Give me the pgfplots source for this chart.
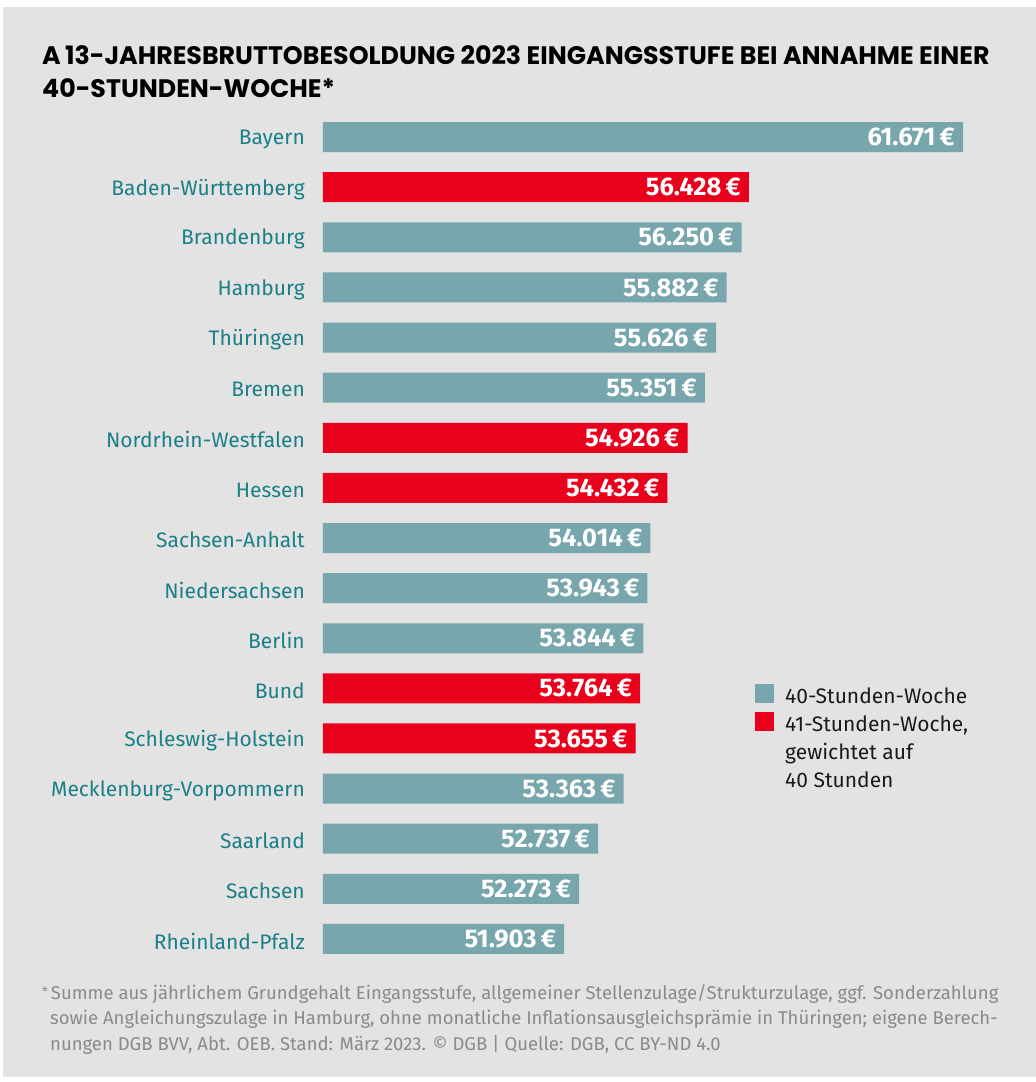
\documentclass[border=0pt]{standalone}
\usepackage{fontspec}
\usepackage{pgfplots}
\usepackage{pgfplotstable}
\pgfplotsset{compat=1.18}
\setmainfont{Fira Sans}
\newfontfamily\titlefont{Poppins}
\definecolor{bg}{HTML}{E2E3E2}
\definecolor{barteal}{HTML}{77A6AD}
\definecolor{barred}{HTML}{E8001C}
\definecolor{labteal}{HTML}{1B7F88}
\definecolor{notegray}{HTML}{8A8A8A}
\definecolor{legtext}{HTML}{1A1A1A}

\pgfplotstableread{
y val
0 61671
2 56250
3 55882
4 55626
5 55351
8 54014
9 53943
10 53844
13 53363
14 52737
15 52273
16 51903
}\tealdata
\pgfplotstableread{
y val
1 56428
6 54926
7 54432
11 53764
12 53655
}\reddata

\begin{document}
\begin{tikzpicture}
\useasboundingbox (0,0) rectangle (1036pt,-1082pt);
\fill[white] (0,0) rectangle (1036pt,-1082pt);
\fill[bg] (3pt,-7pt) rectangle (1036pt,-1077pt);

\node[anchor=base west, inner sep=0pt, font=\titlefont\bfseries\fontsize{25.3}{25.3}\selectfont] at (42pt,-64pt) {A\,13-JAHRESBRUTTOBESOLDUNG 2023 EINGANGSSTUFE BEI ANNAHME EINER};
\node[anchor=base west, inner sep=0pt, font=\titlefont\bfseries\fontsize{25.3}{25.3}\selectfont] at (42pt,-97pt) {40-STUNDEN-WOCHE*};

\begin{axis}[
  at={(323pt,-112pt)}, anchor=north west,
  scale only axis, width=640pt, height=852pt,
  xbar, bar width=30pt,
  xmin=46000, xmax=61671,
  ymin=-0.5, ymax=16.5, y dir=reverse,
  axis line style={draw=none},
  xtick=\empty,
  ytick={0,...,16},
  yticklabels={Bayern,Baden-Württemberg,Brandenburg,Hamburg,Thüringen,Bremen,Nordrhein-Westfalen,Hessen,Sachsen-Anhalt,Niedersachsen,Berlin,Bund,Schleswig-Holstein,Mecklenburg-Vorpommern,Saarland,Sachsen,Rheinland-Pfalz},
  major tick length=0pt,
  ytick style={draw=none},
  yticklabel style={font=\fontsize{21}{21}\selectfont, text=labteal, inner sep=0pt, xshift=-18pt, yshift=-2pt},
  point meta=x,
  nodes near coords={\pgfmathprintnumber[fixed,precision=0,1000 sep={.},assume math mode=true]{\pgfplotspointmeta}\,€},
  every node near coord/.append style={anchor=east, inner sep=0pt, xshift=-8pt, text=white, font=\bfseries\fontsize{25.5}{25.5}\selectfont},
]
\addplot[fill=barteal, draw=none, bar shift=0pt] table[x=val, y=y] {\tealdata};
\addplot[fill=barred, draw=none, bar shift=0pt] table[x=val, y=y] {\reddata};
\end{axis}

% legend
\fill[barteal] (755pt,-684pt) rectangle (774pt,-703pt);
\fill[barred] (755pt,-712pt) rectangle (774pt,-731pt);
\begin{scope}[every node/.style={anchor=base west, inner sep=0pt, text=legtext, font=\fontsize{21}{21}\selectfont}]
\node at (785pt,-703pt) {40-Stunden-Woche};
\node at (785pt,-731pt) {41-Stunden-Woche,};
\node at (785pt,-759pt) {gewichtet auf};
\node at (785pt,-787pt) {40 Stunden};
\end{scope}

% footnote
\begin{scope}[every node/.style={anchor=base west, inner sep=0pt, text=notegray, font=\fontsize{18.5}{18.5}\selectfont}]
\node at (42pt,-999pt) {\raisebox{3pt}{\fontsize{13}{13}\selectfont *}\,Summe aus jährlichem Grundgehalt Eingangsstufe, allgemeiner Stellenzulage/Strukturzulage, ggf. Sonderzahlung};
\node at (50pt,-1024pt) {sowie Angleichungszulage in Hamburg, ohne monatliche Inflationsausgleichsprämie in Thüringen; eigene Berech-};
\node at (50pt,-1050pt) {nungen DGB BVV, Abt. OEB. Stand: März 2023. © DGB | Quelle: DGB, CC BY-ND 4.0};
\end{scope}
\end{tikzpicture}
\end{document}
